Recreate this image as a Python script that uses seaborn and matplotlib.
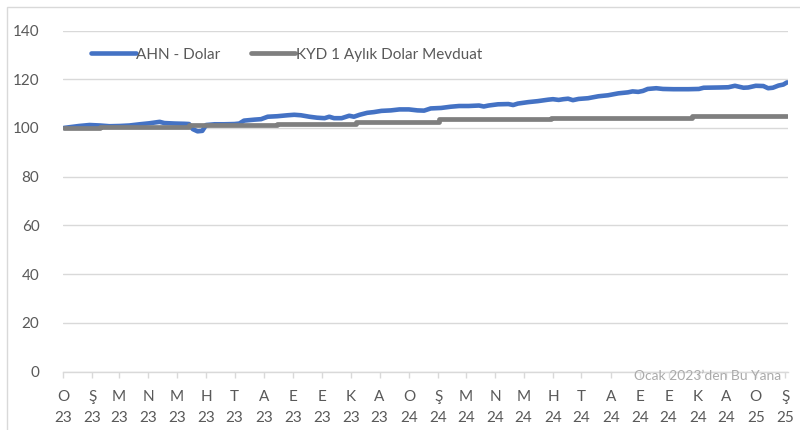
import matplotlib
matplotlib.use("Agg")
import matplotlib.pyplot as plt
import matplotlib.dates as mdates
from matplotlib.patches import Rectangle
import seaborn as sns
import pandas as pd

# ---------------- data ----------------
ahn_dates = [
    "2023-01-02", "2023-01-08", "2023-01-18", "2023-01-29", "2023-02-09", "2023-02-19",
    "2023-03-02", "2023-03-12", "2023-03-23", "2023-04-02", "2023-04-13", "2023-04-18",
    "2023-04-29", "2023-05-09", "2023-05-14", "2023-05-18", "2023-05-23", "2023-05-28",
    "2023-06-01", "2023-06-10", "2023-06-20", "2023-07-01", "2023-07-06", "2023-07-11",
    "2023-07-22", "2023-07-29", "2023-08-05", "2023-08-15", "2023-08-26", "2023-09-02",
    "2023-09-09", "2023-09-18", "2023-09-26", "2023-10-04", "2023-10-09", "2023-10-14",
    "2023-10-22", "2023-10-30", "2023-11-04", "2023-11-10", "2023-11-18", "2023-11-25",
    "2023-12-03", "2023-12-13", "2023-12-22", "2024-01-01", "2024-01-10", "2024-01-17",
    "2024-01-24", "2024-02-04", "2024-02-14", "2024-02-23", "2024-03-04", "2024-03-15",
    "2024-03-20", "2024-03-25", "2024-04-04", "2024-04-15", "2024-04-20", "2024-04-25",
    "2024-05-06", "2024-05-16", "2024-05-27", "2024-06-01", "2024-06-07", "2024-06-12",
    "2024-06-17", "2024-06-22", "2024-06-28", "2024-07-08", "2024-07-19", "2024-07-29",
    "2024-08-09", "2024-08-19", "2024-08-24", "2024-08-30", "2024-09-04", "2024-09-09",
    "2024-09-18", "2024-09-25", "2024-10-06", "2024-10-22", "2024-11-02", "2024-11-07",
    "2024-11-23", "2024-12-03", "2024-12-10", "2024-12-19", "2024-12-24", "2025-01-01",
    "2025-01-09", "2025-01-14", "2025-01-19", "2025-01-25", "2025-01-30", "2025-02-03",
]
ahn_values = [
    100.0, 100.3, 100.8, 101.2, 101.0, 100.7,
    100.8, 101.0, 101.5, 101.9, 102.5, 102.0,
    101.8, 101.7, 101.6, 99.5, 98.6, 98.8,
    101.2, 101.5, 101.5, 101.6, 101.8, 103.0,
    103.4, 103.6, 104.6, 104.8, 105.2, 105.4,
    105.2, 104.6, 104.2, 104.0, 104.6, 104.0,
    104.0, 105.0, 104.6, 105.4, 106.2, 106.5,
    107.0, 107.2, 107.6, 107.6, 107.2, 107.1,
    108.0, 108.2, 108.7, 109.0, 109.0, 109.2,
    108.8, 109.2, 109.7, 109.8, 109.4, 110.0,
    110.6, 111.0, 111.6, 111.8, 111.5, 111.8,
    112.0, 111.4, 111.9, 112.2, 113.0, 113.4,
    114.2, 114.6, 115.0, 114.8, 115.2, 116.0,
    116.3, 116.0, 115.9, 115.9, 116.0, 116.5,
    116.6, 116.7, 117.3, 116.5, 116.6, 117.3,
    117.2, 116.3, 116.5, 117.4, 117.8, 118.7,
]

kyd_dates = [
    "2023-01-02", "2023-02-09", "2023-05-14", "2023-08-15", "2023-11-06",
    "2024-02-02", "2024-05-30", "2024-10-26", "2025-02-03",
]
kyd_values = [100.0, 100.5, 101.1, 101.8, 102.6, 103.6, 104.1, 104.7, 104.7]

tick_months = pd.date_range("2023-01-01", "2025-02-01", freq="MS")
tick_letters = ["O", "Ş", "M", "N", "M", "H", "T", "A", "E", "E", "K", "A"]
tick_labels = [f"{tick_letters[d.month - 1]}\n{d.year % 100}" for d in tick_months]

series_names = ["AHN - Dolar", "KYD 1 Aylık Dolar Mevduat"]
note_text = "Ocak 2023’den Bu Yana"

# ---------------- style ----------------
sns.set_theme(style="white")
plt.rcParams["font.family"] = ["Lato", "DejaVu Sans"]
text_color = "#595959"
blue = "#4472C4"
gray = "#7F7F7F"
grid_color = "#D9D9D9"

fig = plt.figure(figsize=(8, 4.3), dpi=100)
ax = fig.add_axes([63 / 800, 1 - 371.5 / 430, (788 - 63) / 800, (371.5 - 30.5) / 430])

df_ahn = pd.DataFrame({"date": pd.to_datetime(ahn_dates), "value": ahn_values})
df_kyd = pd.DataFrame({"date": pd.to_datetime(kyd_dates), "value": kyd_values})

sns.lineplot(data=df_ahn, x="date", y="value", ax=ax, color=blue, linewidth=3.3,
             label=series_names[0], solid_capstyle="round", zorder=3)
sns.lineplot(data=df_kyd, x="date", y="value", ax=ax, color=gray, linewidth=3.4,
             label=series_names[1], drawstyle="steps-post", zorder=4)

ax.set_ylim(0, 140)
ax.set_yticks(range(0, 141, 20))
ax.set_xlim(pd.Timestamp("2023-01-01"), pd.Timestamp("2025-02-04"))
ax.set_xticks(tick_months)
ax.set_xticklabels(tick_labels, linespacing=1.7)
ax.set_xlabel("")
ax.set_ylabel("")

ax.grid(axis="y", color=grid_color, linewidth=1.0)
ax.grid(axis="x", visible=False)
for side in ["top", "right", "left"]:
    ax.spines[side].set_visible(False)
ax.spines["bottom"].set_color(grid_color)
ax.spines["bottom"].set_linewidth(1.0)
ax.tick_params(axis="x", which="major", bottom=True, length=4, width=1.0,
               color=grid_color, labelcolor=text_color, labelsize=11, pad=9)
ax.tick_params(axis="y", left=False, labelcolor=text_color, labelsize=11, pad=11)

leg = ax.legend(loc="upper left", bbox_to_anchor=(0.02, 0.99), ncol=2, frameon=False,
                fontsize=11, handlelength=2.9, handletextpad=0.05, columnspacing=2.0,
                labelcolor=text_color)

ax.text(0.99, -0.012, note_text, transform=ax.transAxes, ha="right", va="center",
        fontsize=10, color="#ABABAB", zorder=5)

# outer chart border
fig.patches.append(Rectangle((7 / 800, -0.1), 1.2, 1 - 7 / 430 + 0.1,
                             transform=fig.transFigure, fill=False,
                             edgecolor=grid_color, linewidth=1.0))

fig.savefig("out.png", dpi=100)
